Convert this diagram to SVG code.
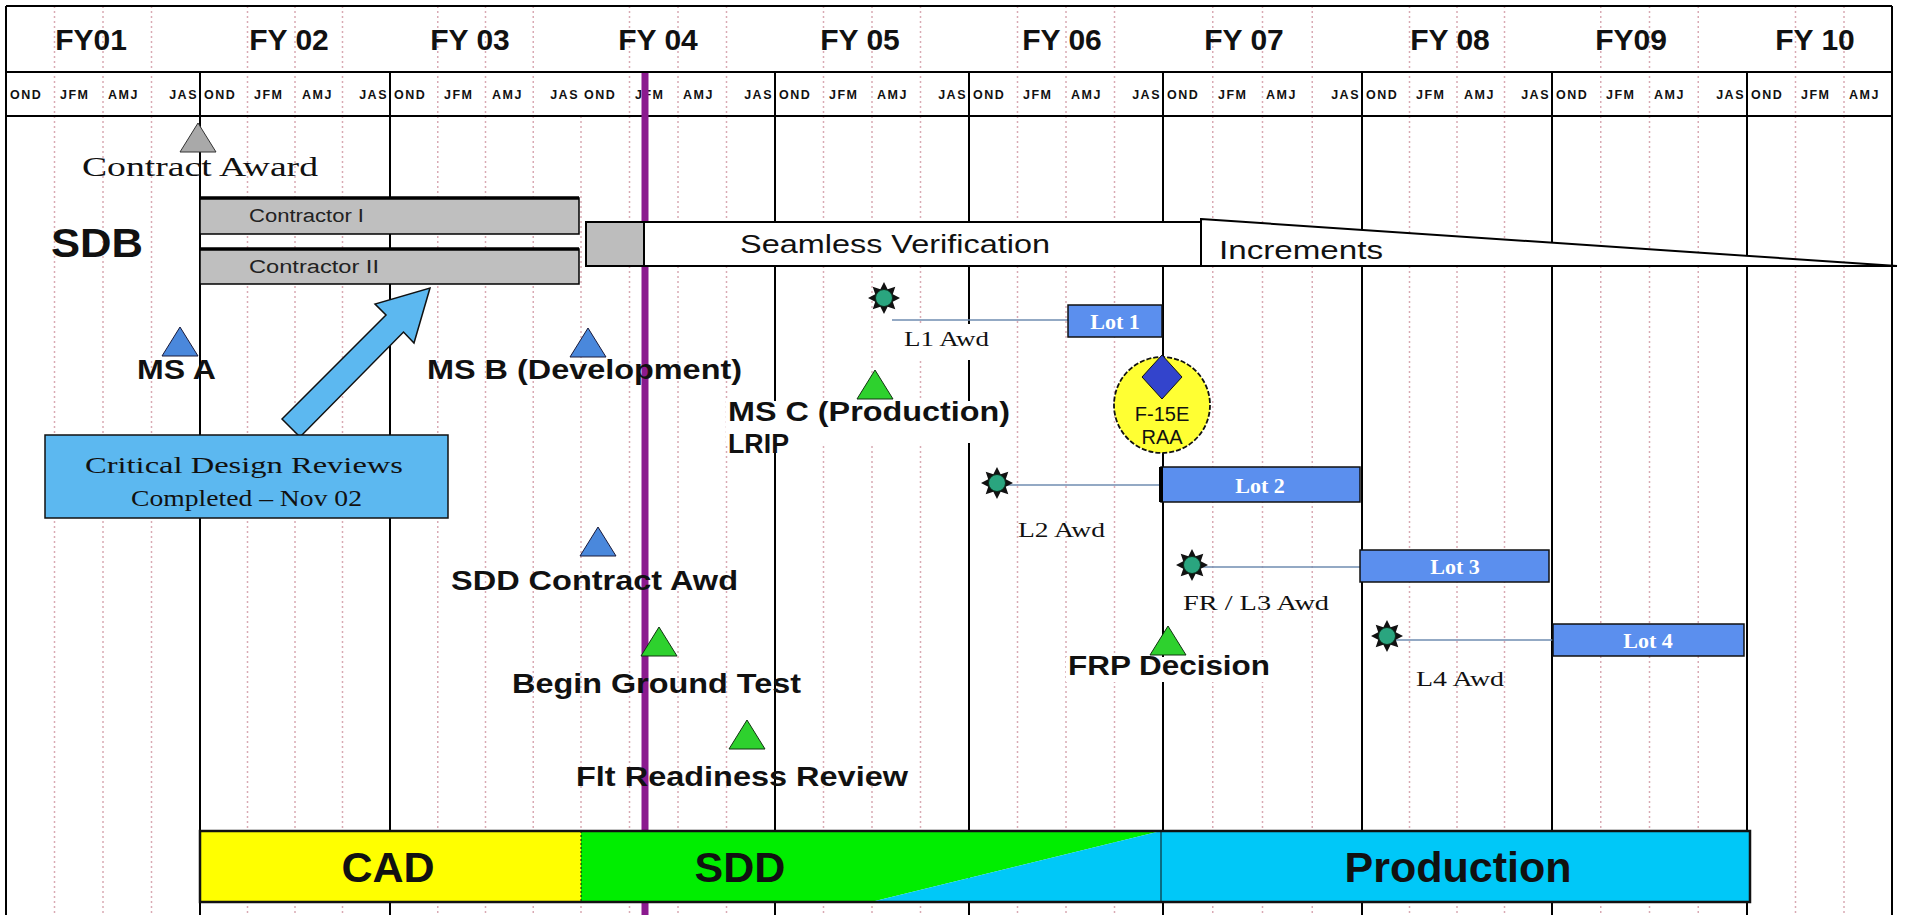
<svg xmlns="http://www.w3.org/2000/svg" width="1906" height="915" viewBox="0 0 1906 915">
<style>
.fy{font-family:"Liberation Sans",Arial,sans-serif;font-weight:bold;font-size:30px;text-anchor:middle;fill:#111}
.mo{font-family:"Liberation Sans",Arial,sans-serif;font-weight:bold;font-size:12.5px;fill:#111;letter-spacing:1.5px}
.grid{stroke:#000;stroke-width:2;fill:none}
.dot{stroke:#d9aab4;stroke-width:1.5;stroke-dasharray:2 3;fill:none}
.ms{font-family:"Liberation Sans",Arial,sans-serif;font-weight:bold;font-size:27px;fill:#111}
.lbl{font-family:"Liberation Serif","Times New Roman",serif;font-size:20px;fill:#111}
.sans{font-family:"Liberation Sans",Arial,sans-serif;fill:#111}
.serif{font-family:"Liberation Serif","Times New Roman",serif;fill:#111}
.lot{fill:#5b8fee;stroke:#111;stroke-width:1.5}
.lott{font-family:"Liberation Serif","Times New Roman",serif;font-weight:bold;font-size:22px;fill:#fff;text-anchor:middle}
.blue{fill:#4a88dc;stroke:#1a1a3a;stroke-width:1}
.green{fill:#2ed12e;stroke:#113311;stroke-width:1}
.grey{fill:#a9a9a9;stroke:#333;stroke-width:1}
.conn{stroke:#6f8db0;stroke-width:1.6;fill:none}
.phase{font-family:"Liberation Sans",Arial,sans-serif;font-weight:bold;font-size:43px;fill:#111;text-anchor:middle}
.bar{fill:#bfbfbf;stroke:#000;stroke-width:1.5}
.ctr{font-family:"Liberation Sans",Arial,sans-serif;font-size:18px;fill:#222}
</style>
<defs>
<path id="tri" d="M0,0 L18,29 L-18,29 Z"/>
<g id="burst">
<polygon points="16,0 8.78,3.64 11.3,11.3 3.64,8.78 0,16 -3.64,8.78 -11.3,11.3 -8.78,3.64 -16,0 -8.78,-3.64 -11.3,-11.3 -3.64,-8.78 0,-16 3.64,-8.78 11.3,-11.3 8.78,-3.64" fill="#111"/>
<circle r="8.5" fill="#2aa57f" stroke="#0a2a1a" stroke-width="1"/>
</g>
</defs>
<rect x="0" y="0" width="1906" height="915" fill="#fff"/>

<g id="grid">
<path class="dot" d="M54.5,6V915M103,6V915M151.5,6V915M247.5,6V915M295,6V915M342.5,6V915M437.75,6V915M485.5,6V915M533.25,6V915M581,116V915M629.5,6V915M678,6V915M726.5,6V915M823.5,6V915M872,6V915M920.5,6V915M1017.5,6V915M1066,6V915M1114.5,6V915M1212.75,6V915M1262.5,6V915M1312.25,6V915M1409.5,6V915M1457,6V915M1504.5,6V915M1600.75,6V915M1649.5,6V915M1698.25,6V915M1795.5,6V915M1844,6V915"/>
<path class="grid" d="M200,72V915M390,72V915M775,72V915M969,72V915M1163,72V915M1362,72V915M1552,72V915M1747,72V915"/>
<path class="grid" d="M6,6H1892M6,72H1892M6,116H1892M6,6V915M1892,6V915"/>
</g>

<g id="header">
<text class="fy" x="91" y="50">FY01</text>
<text class="fy" x="289" y="50">FY 02</text>
<text class="fy" x="470" y="50">FY 03</text>
<text class="fy" x="658" y="50">FY 04</text>
<text class="fy" x="860" y="50">FY 05</text>
<text class="fy" x="1062" y="50">FY 06</text>
<text class="fy" x="1244" y="50">FY 07</text>
<text class="fy" x="1450" y="50">FY 08</text>
<text class="fy" x="1631" y="50">FY09</text>
<text class="fy" x="1815" y="50">FY 10</text>
<g class="mo">
<text x="10" y="99">OND</text><text x="60" y="99">JFM</text><text x="108" y="99">AMJ</text><text x="198" y="99" text-anchor="end">JAS</text>
<text x="204" y="99">OND</text><text x="254" y="99">JFM</text><text x="302" y="99">AMJ</text><text x="388" y="99" text-anchor="end">JAS</text>
<text x="394" y="99">OND</text><text x="444" y="99">JFM</text><text x="492" y="99">AMJ</text><text x="579" y="99" text-anchor="end">JAS</text>
<text x="584" y="99">OND</text><text x="635" y="99">JFM</text><text x="683" y="99">AMJ</text><text x="773" y="99" text-anchor="end">JAS</text>
<text x="779" y="99">OND</text><text x="829" y="99">JFM</text><text x="877" y="99">AMJ</text><text x="967" y="99" text-anchor="end">JAS</text>
<text x="973" y="99">OND</text><text x="1023" y="99">JFM</text><text x="1071" y="99">AMJ</text><text x="1161" y="99" text-anchor="end">JAS</text>
<text x="1167" y="99">OND</text><text x="1218" y="99">JFM</text><text x="1266" y="99">AMJ</text><text x="1360" y="99" text-anchor="end">JAS</text>
<text x="1366" y="99">OND</text><text x="1416" y="99">JFM</text><text x="1464" y="99">AMJ</text><text x="1550" y="99" text-anchor="end">JAS</text>
<text x="1556" y="99">OND</text><text x="1606" y="99">JFM</text><text x="1654" y="99">AMJ</text><text x="1745" y="99" text-anchor="end">JAS</text>
<text x="1751" y="99">OND</text><text x="1801" y="99">JFM</text><text x="1849" y="99">AMJ</text>
</g>
</g>

<g id="today-line">
<line x1="645" y1="73" x2="645" y2="915" stroke="#8b1a8f" stroke-width="7"/>
</g>

<g id="connectors">
<polygon id="cdr-arrow" points="282,419 386,315 375,304 430,288 414,343 403.5,332 300,437" fill="#5cb8f0" stroke="#111" stroke-width="1.5" stroke-linejoin="miter"/>
<line class="conn" x1="892" y1="320" x2="1068" y2="320"/>
<line class="conn" x1="1005" y1="485" x2="1161" y2="485"/>
<line class="conn" x1="1200" y1="567" x2="1360" y2="567"/>
<line class="conn" x1="1395" y1="640" x2="1553" y2="640"/>
</g>

<g id="sdb-label"><text class="sans" x="51" y="257" font-size="40" font-weight="bold" textLength="92" lengthAdjust="spacingAndGlyphs">SDB</text></g>

<g id="contract-award">
<use href="#tri" x="198" y="123" class="grey"/>
<text class="serif" x="82" y="176" font-size="27" textLength="236" lengthAdjust="spacingAndGlyphs">Contract Award</text>
</g>

<g id="contractor-1">
<rect class="bar" x="200" y="198" width="379" height="36"/>
<line x1="200" y1="198" x2="579" y2="198" stroke="#000" stroke-width="3.5"/>
<text class="ctr" x="249" y="222" textLength="115" lengthAdjust="spacingAndGlyphs">Contractor I</text>
</g>

<g id="contractor-2">
<rect class="bar" x="200" y="249" width="379" height="35"/>
<line x1="200" y1="249" x2="579" y2="249" stroke="#000" stroke-width="3.5"/>
<text class="ctr" x="249" y="273" textLength="130" lengthAdjust="spacingAndGlyphs">Contractor II</text>
</g>

<g id="seamless-verification">
<rect x="586" y="222" width="58" height="44" fill="#bdbdbd" stroke="#000" stroke-width="2"/>
<rect x="644" y="222" width="557" height="44" fill="#fff" stroke="#000" stroke-width="2"/>
<text class="sans" x="740" y="253" font-size="25" textLength="310" lengthAdjust="spacingAndGlyphs">Seamless Verification</text>
</g>

<g id="increments">
<polygon points="1201,219 1897,266 1201,266" fill="#fff" stroke="#000" stroke-width="2"/>
<text class="sans" x="1219" y="259" font-size="25" textLength="164" lengthAdjust="spacingAndGlyphs">Increments</text>
</g>

<g id="ms-a">
<use href="#tri" x="180" y="327" class="blue"/>
<text class="ms" x="137" y="379" textLength="79" lengthAdjust="spacingAndGlyphs">MS A</text>
</g>

<g id="ms-b">
<use href="#tri" x="588" y="328" class="blue"/>
<text class="ms" x="427" y="379" textLength="315" lengthAdjust="spacingAndGlyphs">MS B (Development)</text>
</g>

<g id="cdr-box">
<rect x="45" y="435" width="403" height="83" fill="#5cb8f0" stroke="#111" stroke-width="1.5"/>
<text class="serif" x="85" y="473" font-size="24" textLength="318" lengthAdjust="spacingAndGlyphs">Critical Design Reviews</text>
<text class="serif" x="131" y="506" font-size="24" textLength="231" lengthAdjust="spacingAndGlyphs">Completed – Nov 02</text>
</g>

<g id="l1-award">
<use href="#burst" x="884" y="298"/>
<rect x="900" y="324" width="95" height="36" fill="#fff"/>
<text class="lbl" x="904" y="346" textLength="85" lengthAdjust="spacingAndGlyphs">L1 Awd</text>
</g>

<g id="lot-1">
<rect class="lot" x="1068" y="305" width="94" height="32"/>
<text class="lott" x="1115" y="329">Lot 1</text>
</g>

<g id="ms-c">
<use href="#tri" x="875" y="370" class="green"/>
<rect x="726" y="401" width="288" height="42" fill="#fff"/>
<text class="ms" x="728" y="421" textLength="282" lengthAdjust="spacingAndGlyphs">MS C (Production)</text>
<text class="ms" x="728" y="453" textLength="61" lengthAdjust="spacingAndGlyphs">LRIP</text>
</g>

<g id="f15e-raa">
<circle cx="1162" cy="405" r="48" fill="#ffff33" stroke="#111" stroke-width="1.8" stroke-dasharray="5 2"/>
<polygon points="1162,355 1182,377 1162,399 1142,377" fill="#3344cc" stroke="#111" stroke-width="1"/>
<text class="sans" x="1162" y="421" font-size="20" text-anchor="middle" fill="#333">F-15E</text>
<text class="sans" x="1162" y="444" font-size="20" text-anchor="middle" fill="#333">RAA</text>
</g>

<g id="l2-award">
<use href="#burst" x="997" y="483"/>
<text class="lbl" x="1018" y="537" textLength="87" lengthAdjust="spacingAndGlyphs">L2 Awd</text>
</g>

<g id="lot-2">
<rect class="lot" x="1161" y="467" width="199" height="35"/>
<line x1="1161" y1="467" x2="1161" y2="502" stroke="#000" stroke-width="4"/>
<text class="lott" x="1260" y="493">Lot 2</text>
</g>

<g id="sdd-contract-awd">
<use href="#tri" x="598" y="527" class="blue"/>
<text class="ms" x="451" y="590" textLength="287" lengthAdjust="spacingAndGlyphs">SDD Contract Awd</text>
</g>

<g id="fr-l3-award">
<use href="#burst" x="1192" y="565"/>
<text class="lbl" x="1183" y="610" textLength="146" lengthAdjust="spacingAndGlyphs">FR / L3 Awd</text>
</g>

<g id="lot-3">
<rect class="lot" x="1360" y="550" width="189" height="32"/>
<text class="lott" x="1455" y="574">Lot 3</text>
</g>

<g id="l4-award">
<use href="#burst" x="1387" y="636"/>
<text class="lbl" x="1416" y="686" textLength="88" lengthAdjust="spacingAndGlyphs">L4 Awd</text>
</g>

<g id="lot-4">
<rect class="lot" x="1553" y="624" width="191" height="32"/>
<text class="lott" x="1648" y="648">Lot 4</text>
</g>

<g id="frp-decision">
<use href="#tri" x="1168" y="626" class="green"/>
<rect x="1066" y="657" width="206" height="25" fill="#fff"/>
<text class="ms" x="1068" y="675" textLength="202" lengthAdjust="spacingAndGlyphs">FRP Decision</text>
</g>

<g id="begin-ground-test">
<use href="#tri" x="659" y="627" class="green"/>
<text class="ms" x="512" y="693" textLength="289" lengthAdjust="spacingAndGlyphs">Begin Ground Test</text>
</g>

<g id="flt-readiness-review">
<use href="#tri" x="747" y="720" class="green"/>
<text class="ms" x="576" y="786" textLength="332" lengthAdjust="spacingAndGlyphs">Flt Readiness Review</text>
</g>

<g id="phase-bar">
<rect x="200" y="831" width="381" height="71" fill="#ffff00"/>
<polygon points="581,831 1161,831 871,902 581,902" fill="#00ee00"/>
<polygon points="1161,831 1161,902 871,902" fill="#00c8f8"/>
<rect x="1161" y="831" width="589" height="71" fill="#00c8f8"/>
<line x1="581" y1="831" x2="581" y2="902" stroke="#111" stroke-width="1" stroke-dasharray="2 2"/>
<line x1="1161" y1="831" x2="1161" y2="902" stroke="#111" stroke-width="1"/>
<rect x="200" y="831" width="1550" height="71" fill="none" stroke="#111" stroke-width="2.5"/>
<text class="phase" x="388" y="882">CAD</text>
<text class="phase" x="740" y="882">SDD</text>
<text class="phase" x="1458" y="882">Production</text>
</g>
</svg>
